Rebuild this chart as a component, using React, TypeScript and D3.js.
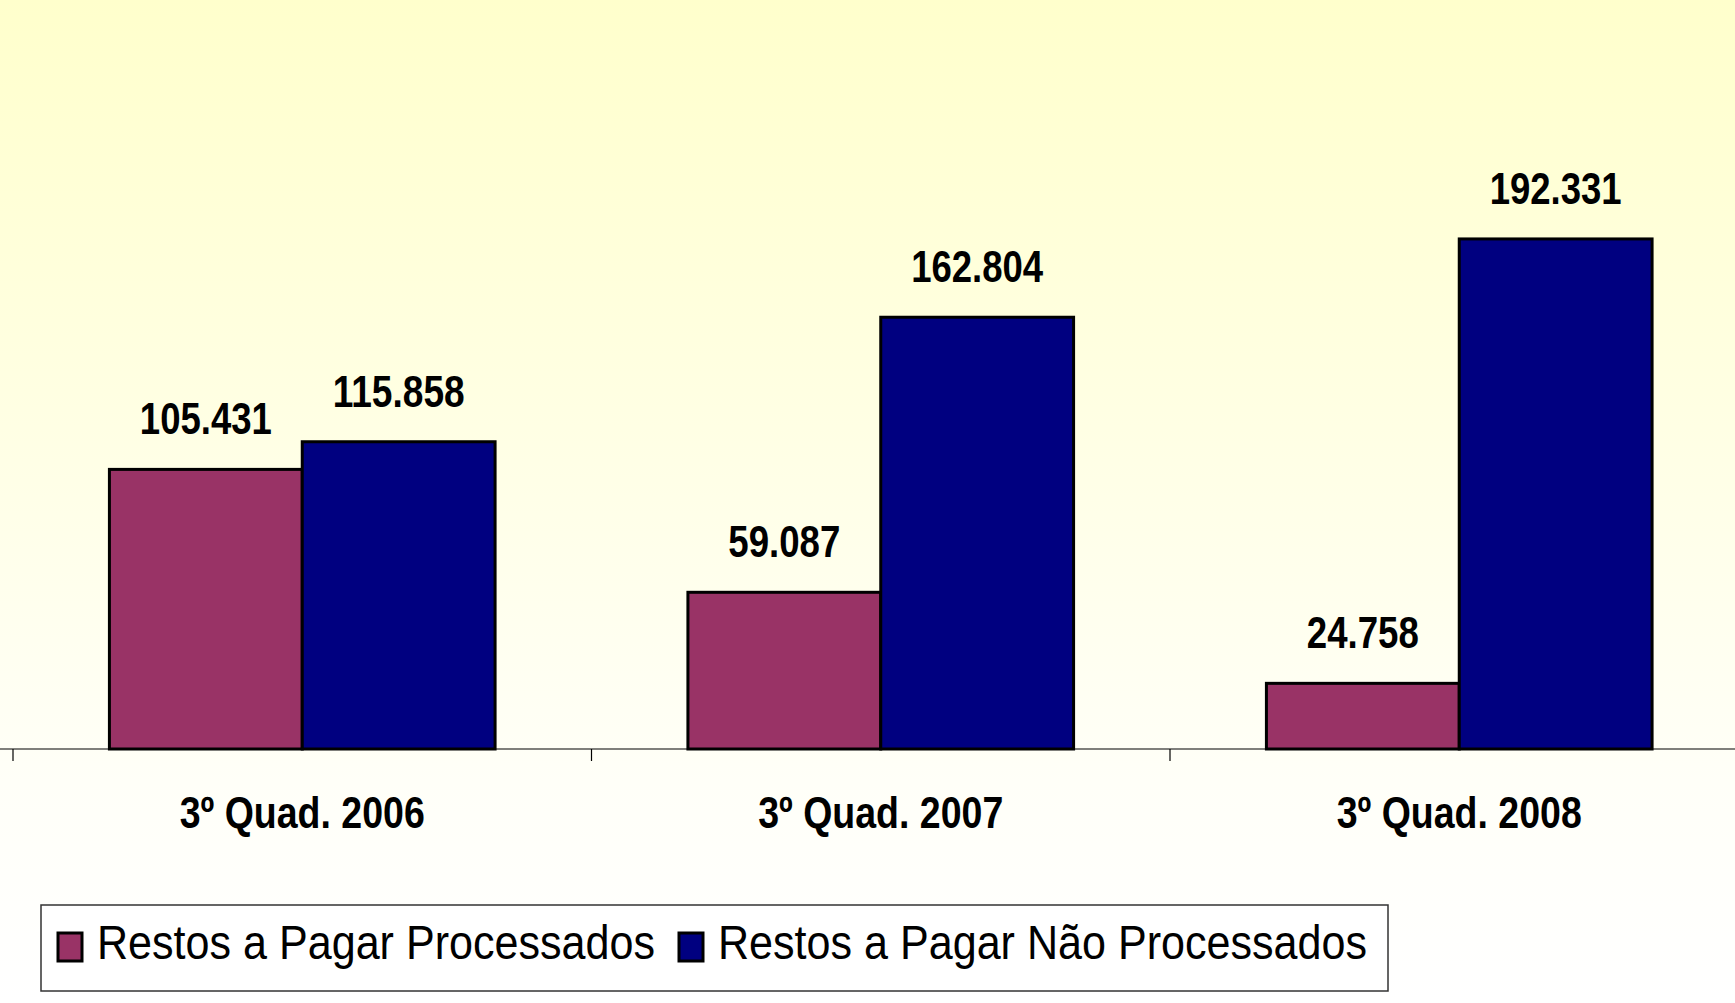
import React from "react";
import * as d3 from "d3";

const categories = ["3º Quad. 2006", "3º Quad. 2007", "3º Quad. 2008"];
const seriesNames = ["Restos a Pagar Processados", "Restos a Pagar Não Processados"];
const processados = [105431, 59087, 24758];
const naoProcessados = [115858, 162804, 192331];
const valueLabels = [
  ["105.431", "59.087", "24.758"],
  ["115.858", "162.804", "192.331"],
];
const colors = ["#993366", "#000080"];

const W = 1735;
const H = 1003;
const FONT = "'Liberation Sans Narrow', 'Arial Narrow', 'Liberation Sans', Arial, sans-serif";

export default function App() {
  const axisY = 749;
  const x = d3.scaleBand<string>().domain(categories).range([13, 13 + 3 * 578.5]).paddingInner(0).paddingOuter(0);
  const bw = x.bandwidth();
  const sub = d3.scaleBand<number>().domain([0, 1]).range([bw / 6, (bw * 5) / 6]).padding(0);
  const y = d3.scaleLinear().domain([0, 250000]).range([axisY, axisY - 663]);
  const series = [processados, naoProcessados];

  const ticks = [...categories.map((c) => x(c) as number), (x(categories[2]) as number) + bw];
  const legendTextLen = [558, 649];
  const legendMarkerX = [58, 679];
  const legendTextX = [97, 718];

  return (
    <div style={{ position: "fixed", left: 0, top: 0, width: W, height: H }}>
      <svg width={W} height={H} style={{ display: "block" }}>
        <defs>
          <linearGradient id="bg" x1="0" y1="0" x2="0" y2="1">
            <stop offset="0" stopColor="#FFFFCC" />
            <stop offset="0.78" stopColor="#FFFFF8" />
            <stop offset="1" stopColor="#FFFFFF" />
          </linearGradient>
        </defs>
        <rect x={0} y={0} width={W} height={H} fill="url(#bg)" />

        {series.map((vals, si) =>
          vals.map((v, ci) => {
            const bx = (x(categories[ci]) as number) + (sub(si) as number);
            const by = y(v);
            return (
              <rect
                key={`b${si}-${ci}`}
                x={bx}
                y={by}
                width={sub.bandwidth()}
                height={axisY - by}
                fill={colors[si]}
                stroke="#000"
                strokeWidth={3}
              />
            );
          })
        )}

        <line x1={0} x2={W} y1={axisY} y2={axisY} stroke="#000" strokeWidth={1.2} />
        {ticks.map((t, i) => (
          <line key={`t${i}`} x1={t} x2={t} y1={axisY} y2={axisY + 12} stroke="#000" strokeWidth={1.2} />
        ))}

        {series.map((vals, si) =>
          vals.map((v, ci) => {
            const cx = (x(categories[ci]) as number) + (sub(si) as number) + sub.bandwidth() / 2;
            const lbl = valueLabels[si][ci];
            return (
              <text
                key={`l${si}-${ci}`}
                x={cx}
                y={y(v) - 35}
                textAnchor="middle"
                fontFamily={FONT}
                fontWeight="bold"
                fontSize={45}
                fill="#000"
                textLength={lbl.length === 7 ? 132 : 112}
                lengthAdjust="spacingAndGlyphs"
              >
                {lbl}
              </text>
            );
          })
        )}

        {categories.map((c) => (
          <text
            key={c}
            x={(x(c) as number) + bw / 2}
            y={828}
            textAnchor="middle"
            fontFamily={FONT}
            fontWeight="bold"
            fontSize={45}
            fill="#000"
            textLength={245}
            lengthAdjust="spacingAndGlyphs"
          >
            {c}
          </text>
        ))}

        <g>
          <rect x={41} y={905} width={1347} height={86} fill="#FFFFFF" stroke="#333" strokeWidth={1.5} />
          {[0, 1].map((i) => (
            <g key={`lg${i}`}>
              <rect x={legendMarkerX[i]} y={933} width={24} height={28} fill={colors[i]} stroke="#000" strokeWidth={3} />
              <text
                x={legendTextX[i]}
                y={959}
                fontFamily={FONT}
                fontSize={48}
                fill="#000"
                textLength={legendTextLen[i]}
                lengthAdjust="spacingAndGlyphs"
              >
                {seriesNames[i]}
              </text>
            </g>
          ))}
        </g>
      </svg>
    </div>
  );
}
